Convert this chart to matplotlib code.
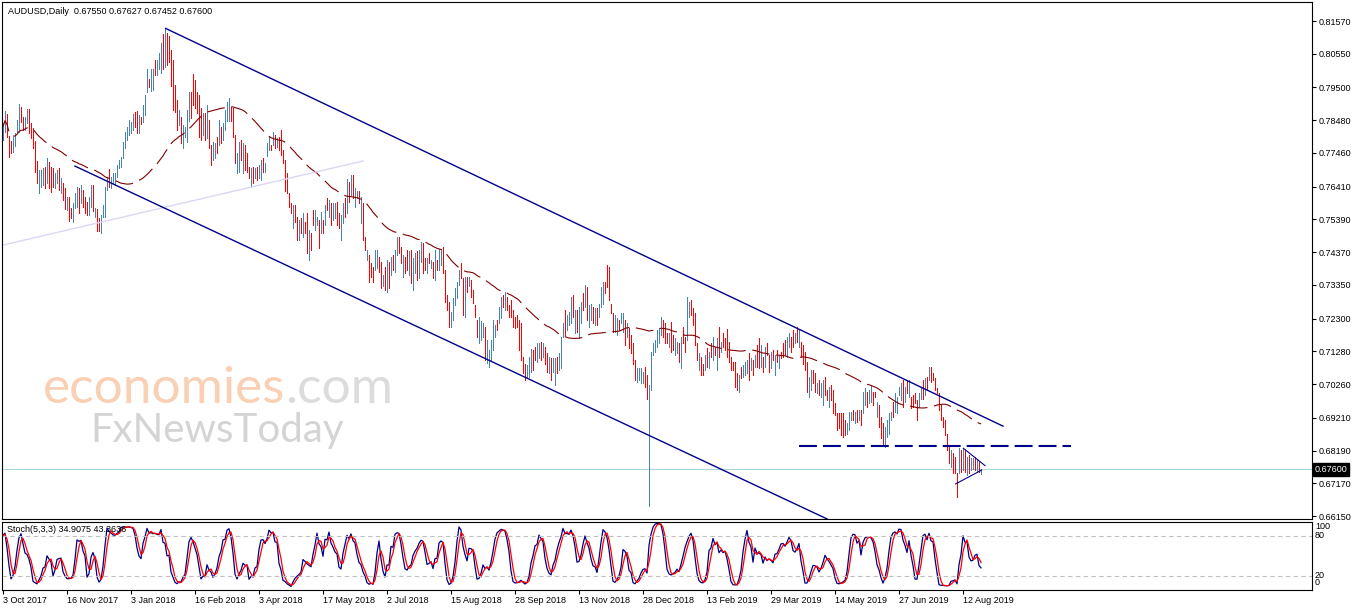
import numpy as np
import pandas as pd
import matplotlib
matplotlib.use("Agg")
import matplotlib.pyplot as plt
import matplotlib.transforms as mtransforms

# AUDUSD daily bars, prices in pips (x 1e-4)
highs = [
    7838, 7878, 7867, 7799, 7784, 7797, 7807, 7849, 7898, 7890,
    7859, 7859, 7882, 7882, 7838, 7823, 7784, 7720, 7693, 7693,
    7698, 7703, 7729, 7719, 7703, 7698, 7682, 7693, 7698, 7667,
    7651, 7636, 7610, 7610, 7573, 7589, 7620, 7641, 7636, 7646,
    7630, 7610, 7594, 7610, 7646, 7646, 7573, 7570, 7542, 7553,
    7584, 7641, 7672, 7695, 7672, 7682, 7682, 7708, 7724, 7734,
    7781, 7812, 7828, 7849, 7843, 7866, 7874, 7878, 7864, 7859,
    7895, 7926, 8009, 7975, 8006, 8009, 8037, 8037, 8058, 8087,
    8118, 8135, 8120, 8110, 8067, 8036, 7958, 7911, 7880, 7859,
    7833, 7828, 7880, 7937, 7937, 7991, 7973, 7937, 7927, 7885,
    7870, 7870, 7896, 7849, 7771, 7781, 7776, 7797, 7849, 7828,
    7838, 7880, 7906, 7916, 7890, 7885, 7802, 7745, 7781, 7786,
    7776, 7771, 7745, 7703, 7698, 7703, 7698, 7703, 7709, 7724,
    7729, 7714, 7776, 7797, 7771, 7812, 7802, 7792, 7797, 7818,
    7755, 7724, 7683, 7620, 7589, 7584, 7584, 7548, 7537, 7543,
    7558, 7532, 7558, 7506, 7496, 7568, 7568, 7548, 7537, 7563,
    7537, 7584, 7605, 7600, 7589, 7589, 7589, 7594, 7558, 7553,
    7589, 7605, 7664, 7657, 7677, 7677, 7636, 7626, 7626, 7610,
    7589, 7485, 7444, 7428, 7402, 7392, 7444, 7444, 7423, 7407,
    7366, 7392, 7413, 7407, 7423, 7428, 7444, 7485, 7485, 7454,
    7428, 7423, 7444, 7439, 7444, 7418, 7433, 7439, 7444, 7470,
    7465, 7418, 7418, 7433, 7413, 7407, 7444, 7413, 7446, 7446,
    7454, 7382, 7304, 7283, 7252, 7293, 7324, 7345, 7382, 7402,
    7356, 7361, 7361, 7361, 7350, 7319, 7272, 7226, 7236, 7221,
    7215, 7205, 7163, 7132, 7163, 7226, 7210, 7225, 7267, 7298,
    7303, 7314, 7298, 7272, 7288, 7257, 7236, 7241, 7225, 7215,
    7111, 7090, 7085, 7111, 7134, 7132, 7142, 7153, 7155, 7158,
    7153, 7142, 7122, 7111, 7106, 7106, 7106, 7111, 7124, 7174,
    7215, 7257, 7241, 7251, 7298, 7303, 7257, 7257, 7267, 7283,
    7309, 7334, 7329, 7272, 7277, 7267, 7262, 7262, 7277, 7329,
    7345, 7345, 7397, 7392, 7277, 7246, 7241, 7231, 7225, 7246,
    7246, 7225, 7215, 7200, 7179, 7153, 7101, 7075, 7075, 7075,
    7065, 7080, 7054, 7023, 7127, 7153, 7163, 7194, 7200, 7236,
    7225, 7215, 7184, 7184, 7220, 7179, 7168, 7158, 7153, 7173,
    7205, 7173, 7298, 7283, 7288, 7262, 7246, 7153, 7122, 7111,
    7090, 7116, 7137, 7127, 7153, 7173, 7142, 7168, 7205, 7158,
    7184, 7168, 7199, 7158, 7111, 7096, 7096, 7059, 7054, 7080,
    7085, 7096, 7101, 7122, 7106, 7101, 7116, 7148, 7168, 7148,
    7111, 7142, 7153, 7116, 7127, 7132, 7116, 7132, 7116, 7127,
    7153, 7163, 7173, 7184, 7173, 7194, 7184, 7205, 7194, 7158,
    7148, 7127, 7096, 7049, 7070, 7070, 7059, 7028, 7039, 7028,
    7039, 7049, 7007, 7018, 7023, 7007, 6966, 6935, 6935, 6935,
    6935, 6914, 6904, 6940, 6940, 6945, 6940, 6945, 6945, 6945,
    7002, 7013, 7002, 7007, 7023, 7002, 7002, 6971, 6961, 6924,
    6904, 6893, 6914, 6935, 6940, 6971, 6997, 6987, 7018, 7028,
    7039, 7018, 7039, 7039, 6987, 6992, 6997, 6976, 6997, 7018,
    7039, 7044, 7049, 7080, 7080, 7059, 7044, 7013, 6997, 6961,
    6924, 6914, 6872, 6836, 6820, 6810, 6800, 6748, 6826, 6820,
    6826, 6820, 6800, 6805, 6795, 6795, 6800, 6789, 6784, 6763,
]
lows = [
    7786, 7812, 7797, 7732, 7747, 7750, 7768, 7812, 7812, 7843,
    7817, 7817, 7838, 7807, 7791, 7760, 7688, 7651, 7622, 7641,
    7646, 7636, 7651, 7636, 7625, 7641, 7636, 7651, 7630, 7620,
    7599, 7570, 7568, 7535, 7542, 7530, 7573, 7579, 7558, 7591,
    7579, 7558, 7553, 7553, 7579, 7565, 7547, 7502, 7502, 7498,
    7547, 7547, 7630, 7641, 7636, 7651, 7646, 7672, 7698, 7703,
    7729, 7760, 7786, 7802, 7807, 7817, 7828, 7809, 7807, 7836,
    7843, 7864, 7937, 7952, 7939, 7942, 7989, 7989, 8006, 7994,
    8009, 8013, 8020, 8030, 7953, 7880, 7875, 7818, 7833, 7776,
    7761, 7797, 7781, 7844, 7854, 7896, 7885, 7870, 7797, 7786,
    7802, 7786, 7792, 7761, 7709, 7724, 7729, 7745, 7771, 7776,
    7786, 7818, 7844, 7844, 7844, 7797, 7714, 7683, 7688, 7724,
    7683, 7693, 7688, 7667, 7641, 7652, 7667, 7662, 7667, 7662,
    7688, 7688, 7735, 7755, 7755, 7771, 7761, 7766, 7755, 7740,
    7714, 7626, 7620, 7579, 7558, 7511, 7532, 7475, 7475, 7496,
    7485, 7496, 7433, 7413, 7444, 7522, 7506, 7522, 7449, 7496,
    7496, 7522, 7568, 7545, 7522, 7537, 7542, 7522, 7511, 7475,
    7527, 7548, 7558, 7594, 7615, 7605, 7579, 7605, 7589, 7527,
    7475, 7444, 7413, 7345, 7361, 7345, 7382, 7387, 7376, 7324,
    7330, 7319, 7314, 7324, 7366, 7382, 7376, 7428, 7433, 7402,
    7361, 7371, 7382, 7366, 7340, 7319, 7371, 7350, 7356, 7407,
    7371, 7382, 7371, 7402, 7387, 7356, 7350, 7382, 7382, 7397,
    7371, 7283, 7257, 7205, 7205, 7226, 7272, 7293, 7335, 7356,
    7241, 7236, 7314, 7330, 7298, 7278, 7236, 7174, 7153, 7163,
    7174, 7101, 7091, 7080, 7101, 7132, 7174, 7194, 7215, 7231,
    7267, 7257, 7257, 7236, 7236, 7205, 7200, 7205, 7132, 7101,
    7059, 7039, 7049, 7049, 7065, 7070, 7101, 7096, 7106, 7101,
    7111, 7090, 7065, 7059, 7039, 7065, 7023, 7059, 7070, 7075,
    7174, 7179, 7194, 7210, 7215, 7236, 7184, 7189, 7168, 7215,
    7257, 7267, 7225, 7205, 7225, 7215, 7210, 7210, 7236, 7267,
    7277, 7309, 7329, 7288, 7246, 7189, 7189, 7179, 7194, 7215,
    7189, 7148, 7174, 7137, 7122, 7090, 7039, 7033, 7039, 7028,
    7028, 7018, 6981, 6646, 7007, 7116, 7127, 7142, 7153, 7179,
    7174, 7153, 7153, 7142, 7127, 7132, 7116, 7122, 7096, 7075,
    7153, 7127, 7163, 7236, 7241, 7210, 7148, 7101, 7070, 7054,
    7054, 7070, 7080, 7075, 7111, 7101, 7116, 7070, 7111, 7127,
    7142, 7132, 7111, 7096, 7070, 7070, 7018, 7007, 7002, 7044,
    7049, 7054, 7059, 7039, 7070, 7054, 7080, 7080, 7075, 7080,
    7064, 7080, 7116, 7064, 7075, 7101, 7054, 7096, 7075, 7106,
    7111, 7116, 7111, 7142, 7127, 7142, 7153, 7158, 7142, 7111,
    7090, 7070, 7002, 6987, 7007, 7028, 7002, 6997, 6992, 6987,
    6961, 6992, 6976, 6955, 6976, 6935, 6929, 6883, 6888, 6867,
    6862, 6867, 6872, 6883, 6914, 6914, 6904, 6909, 6914, 6898,
    6935, 6961, 6955, 6966, 6971, 6961, 6987, 6924, 6893, 6857,
    6836, 6831, 6862, 6872, 6914, 6924, 6940, 6935, 6992, 6976,
    6955, 6971, 6997, 6987, 6950, 6955, 6966, 6914, 6955, 6981,
    6981, 6992, 7007, 7039, 7033, 7039, 7007, 6997, 6945, 6914,
    6893, 6867, 6820, 6779, 6769, 6748, 6748, 6675, 6748, 6753,
    6758, 6753, 6743, 6748, 6758, 6763, 6758, 6753, 6753, 6745,
]
closes = [
    7828, 7865, 7811, 7745, 7754, 7788, 7799, 7842, 7881, 7852,
    7825, 7851, 7873, 7822, 7800, 7772, 7707, 7665, 7679, 7683,
    7688, 7649, 7713, 7653, 7641, 7652, 7673, 7685, 7644, 7658,
    7609, 7583, 7602, 7550, 7548, 7577, 7611, 7629, 7574, 7635,
    7589, 7568, 7561, 7599, 7633, 7581, 7568, 7515, 7510, 7542,
    7577, 7622, 7664, 7652, 7665, 7676, 7675, 7701, 7719, 7728,
    7771, 7802, 7820, 7840, 7836, 7856, 7837, 7822, 7853, 7841,
    7885, 7914, 7995, 7957, 7993, 7996, 7999, 8027, 8048, 8069,
    8030, 8110, 8040, 8046, 7976, 7911, 7892, 7837, 7870, 7793,
    7819, 7822, 7860, 7918, 7871, 7915, 7903, 7883, 7823, 7806,
    7856, 7803, 7875, 7779, 7721, 7770, 7767, 7755, 7833, 7786,
    7828, 7868, 7894, 7902, 7853, 7815, 7732, 7733, 7762, 7736,
    7757, 7709, 7699, 7674, 7687, 7662, 7692, 7670, 7701, 7712,
    7696, 7709, 7768, 7789, 7758, 7804, 7769, 7787, 7763, 7756,
    7722, 7646, 7633, 7587, 7564, 7569, 7542, 7490, 7525, 7505,
    7543, 7503, 7458, 7487, 7454, 7531, 7556, 7543, 7467, 7550,
    7504, 7572, 7575, 7590, 7535, 7579, 7580, 7536, 7520, 7537,
    7577, 7559, 7643, 7607, 7665, 7619, 7625, 7622, 7596, 7594,
    7498, 7452, 7438, 7362, 7369, 7354, 7432, 7433, 7385, 7341,
    7359, 7334, 7393, 7341, 7412, 7391, 7430, 7474, 7443, 7412,
    7415, 7381, 7394, 7424, 7361, 7398, 7421, 7368, 7426, 7457,
    7390, 7389, 7409, 7408, 7408, 7366, 7425, 7388, 7433, 7436,
    7388, 7303, 7266, 7221, 7243, 7280, 7314, 7335, 7373, 7365,
    7264, 7336, 7323, 7355, 7308, 7286, 7243, 7184, 7219, 7209,
    7207, 7122, 7149, 7122, 7151, 7207, 7203, 7200, 7257, 7285,
    7274, 7303, 7265, 7243, 7246, 7215, 7207, 7212, 7151, 7124,
    7069, 7049, 7078, 7099, 7120, 7082, 7109, 7142, 7145, 7112,
    7145, 7100, 7076, 7101, 7052, 7098, 7089, 7069, 7113, 7154,
    7207, 7195, 7232, 7243, 7281, 7249, 7242, 7203, 7247, 7269,
    7267, 7321, 7246, 7259, 7267, 7225, 7252, 7220, 7269, 7317,
    7331, 7316, 7343, 7309, 7252, 7200, 7231, 7221, 7200, 7240,
    7235, 7163, 7207, 7150, 7133, 7103, 7051, 7067, 7068, 7066,
    7058, 7030, 6996, 7010, 7103, 7146, 7156, 7184, 7191, 7225,
    7184, 7165, 7159, 7176, 7146, 7141, 7158, 7151, 7107, 7153,
    7163, 7136, 7271, 7274, 7250, 7220, 7168, 7111, 7112, 7065,
    7061, 7107, 7091, 7117, 7119, 7159, 7121, 7148, 7130, 7152,
    7150, 7139, 7129, 7108, 7078, 7075, 7034, 7017, 7044, 7051,
    7078, 7088, 7093, 7056, 7099, 7063, 7109, 7094, 7094, 7135,
    7073, 7130, 7123, 7074, 7117, 7107, 7104, 7103, 7108, 7110,
    7119, 7125, 7161, 7176, 7136, 7152, 7178, 7167, 7184, 7120,
    7102, 7081, 7021, 7037, 7057, 7036, 7013, 7022, 7001, 7020,
    7023, 7003, 6982, 7005, 6985, 6949, 6936, 6893, 6897, 6881,
    6877, 6876, 6898, 6929, 6935, 6920, 6933, 6916, 6939, 6907,
    6989, 7003, 6964, 6999, 7013, 6969, 6990, 6962, 6907, 6870,
    6850, 6881, 6904, 6922, 6935, 6933, 6986, 6977, 7013, 7018,
    6972, 7009, 7005, 7029, 6957, 6962, 6972, 6926, 6989, 7011,
    6993, 7034, 7015, 7072, 7042, 7043, 7014, 7000, 6955, 6923,
    6899, 6876, 6830, 6790, 6810, 6760, 6758, 6690, 6810, 6766,
    6812, 6766, 6789, 6759, 6787, 6789, 6766, 6782, 6755, 6760,
]
# B = bull bar (steel blue), R = bear bar (red)
bar_dirs = (
    "BBRRRBBBBR" "RBBRRRRRBB" "BRBRRRBBRB" "RRBRRBBBRB" "RRRBBRBRRB"
    "BBBRBBBBBB" "BBBBBBRRBR" "BBBRBBRBBB" "RBRRRRRRBR" "BBBBRRRRRR"
    "BRBRRBBRBR" "BBBBRRRBBR" "BRRRBRBRBB" "RBBBRBRBRR" "RRRRRBRRBR"
    "BRRBRRBBRB" "RBRBRBBRRB" "BRBRBRBBRB" "RRBRRRBBRR" "BRBRBRBBRR"
    "BRRBRBBRBB" "RRBRBRBRBB" "RRRRBBBBBR" "RBRBRRRRBB" "BRBBBBBRBB"
    "RBRRRRRRRR" "RRBBBRRBBR" "BRRBRBBRBB" "BRBBBRBRBB" "RBRBBRBRBB"
    "BRRRRRBBRB" "BRBRRRRBBB" "BRRBBBBBBB" "RRRBRRBBRB" "RRBBRRRRBR"
    "RBRBRBRBRB" "RRRRRRRRBR" "BBBRBRBRRB" "RBRRBRBRBR" "RRBBRRBRBR"
    "RRRBBRRBRB" "BRRBRRRRRR" "RRBBBRBRBR" "BBRBBRRBRR" "RBBBBRBBBB"
    "RBRBRRRRBB" "RBRBRRRRRR" "RRRRBRRRBR" "BRBRBBRBRB"
)

date_labels = ["3 Oct 2017", "16 Nov 2017", "3 Jan 2018", "16 Feb 2018",
               "3 Apr 2018", "17 May 2018", "2 Jul 2018", "15 Aug 2018",
               "28 Sep 2018", "13 Nov 2018", "28 Dec 2018", "13 Feb 2019",
               "29 Mar 2019", "14 May 2019", "27 Jun 2019", "12 Aug 2019"]
date_bars = [0, 32, 64, 96, 128, 160, 192, 224, 256, 288, 320, 352, 384, 416, 448, 480]
price_ticks = [0.81570, 0.80550, 0.79500, 0.78480, 0.77460, 0.76410, 0.75390, 0.74370,
               0.73350, 0.72300, 0.71280, 0.70260, 0.69210, 0.68190, 0.67170, 0.66150]
last_price = 0.67600
header = "AUDUSD,Daily  0.67550 0.67627 0.67452 0.67600"
stoch_title = "Stoch(5,3,3) 34.9075 43.3636"

# hand drawn objects on the chart: (bar index pair, price pair)
upper_channel = ([81.3, 500], [0.8134, 0.6895])
lower_channel = ([36, 412], [0.7705, 0.6606])
old_trendline = ([0, 180], [0.7459, 0.7721])
support_level = ([398, 534], [0.6833, 0.6833])
wedge_top = ([480.2, 491], [0.6826, 0.6772])
wedge_bottom = ([476.3, 489.3], [0.6715, 0.6758])

assert len(highs) == len(lows) == len(closes) == len(bar_dirs)

df = pd.DataFrame({"high": np.array(highs) / 1e4,
                   "low": np.array(lows) / 1e4,
                   "close": np.array(closes) / 1e4})
ma50 = df["close"].rolling(50, min_periods=1).mean()

ll = df["low"].rolling(5, min_periods=1).min()
hh = df["high"].rolling(5, min_periods=1).max()
stoch_main = 100 * (df["close"] - ll).rolling(3, min_periods=1).sum() / \
    (hh - ll).rolling(3, min_periods=1).sum()
stoch_signal = stoch_main.rolling(3, min_periods=1).mean()

plt.rcParams["font.family"] = ["Liberation Sans", "DejaVu Sans"]

W, H = 1358, 611
fig = plt.figure(figsize=(W / 100, H / 100), dpi=100)
ax = fig.add_axes([2 / W, (H - 519) / H, 1310 / W, 517 / H])
ax2 = fig.add_axes([2 / W, (H - 590) / H, 1310 / W, 68.5 / H])

x = np.arange(len(df))
up = np.array([c == "B" for c in bar_dirs])
ax.vlines(x[up], df["low"][up], df["high"][up], colors="#4682B4", lw=0.5, antialiased=False)
ax.vlines(x[~up], df["low"][~up], df["high"][~up], colors="#FF0000", lw=0.5, antialiased=False)

ax.plot(x, ma50, color="#800000", lw=0.8, linestyle=(0, (16, 6)))

ax.axhline(last_price, color="#A8D8DE", lw=0.8, zorder=1)
ax.plot(*old_trendline, color="#DCD6F4", lw=1.0)
ax.plot(*upper_channel, color="#00008B", lw=1.0)
ax.plot(*lower_channel, color="#00008B", lw=1.0)
ax.plot(*support_level, color="#00008B", lw=1.5, linestyle=(0, (8.6, 2.9)))
ax.plot(*wedge_top, color="#00008B", lw=0.8)
ax.plot(*wedge_bottom, color="#00008B", lw=0.8)

ax.set_xlim(-0.5, 654.5)
ax.set_ylim(0.66057, 0.82162)
ax.set_xticks([])
ax.yaxis.tick_right()
ax.set_yticks(price_ticks)
ax.set_yticklabels([f"{p:.5f}" for p in price_ticks])
ax.tick_params(axis="y", length=3, width=0.8, pad=2, labelsize=6.5)
for s in ax.spines.values():
    s.set_linewidth(0.8)

trans = mtransforms.blended_transform_factory(ax.transAxes, ax.transData)
ax.text(1.0 + 3 / 1310, last_price, f"{last_price:.5f}", transform=trans, ha="left",
        va="center", fontsize=6.5, color="white",
        bbox=dict(facecolor="black", edgecolor="black", pad=1.2))
ax.text(6 / 1310, 1 - 9 / 517, header, transform=ax.transAxes, fontsize=6.5,
        va="center", ha="left")

# watermark
wm = ax.text(43 / W, (H - 403) / H, "economies", transform=fig.transFigure,
             fontsize=37, family="Lato", color="#FAD0B4", va="baseline", zorder=0)
ax.annotate(".com", xy=(1, 0), xycoords=wm, fontsize=37, family="Lato",
            color="#DCDCDC", va="bottom", ha="left", zorder=0)
ax.text(90 / W, (H - 442) / H, "FxNewsToday", transform=fig.transFigure,
        fontsize=29, family="Lato", color="#D4D4D4", va="baseline", zorder=0)

# stochastic panel
ax2.plot(x, stoch_main, color="#000080", lw=0.9)
ax2.plot(x, stoch_signal, color="#FF0000", lw=0.9)
for lvl in (80, 20):
    ax2.axhline(lvl, color="#C0C0C0", lw=0.8, linestyle=(0, (4, 3)))
ax2.set_xlim(-0.5, 654.5)
ax2.set_ylim(-1, 101.5)
ax2.set_yticks([])
ax2.set_xticks(date_bars)
ax2.set_xticklabels(date_labels)
for lab in ax2.get_xticklabels():
    lab.set_ha("left")
ax2.tick_params(axis="x", length=3, width=0.8, pad=1.5, labelsize=6.5)
for s in ax2.spines.values():
    s.set_linewidth(0.8)
ax2.text(5 / 1310, 0.88, stoch_title, transform=ax2.transAxes, fontsize=6.5,
         va="center", ha="left")
trans2 = mtransforms.blended_transform_factory(ax2.transAxes, ax2.transData)
for val, ypos in ((100, 94), (80, 80), (20, 21), (0, 10)):
    ax2.text(1.0 + 3 / 1310, ypos, str(val), transform=trans2, fontsize=6.5,
             va="center", ha="left")

fig.savefig("out.png", dpi=100, facecolor="white")
